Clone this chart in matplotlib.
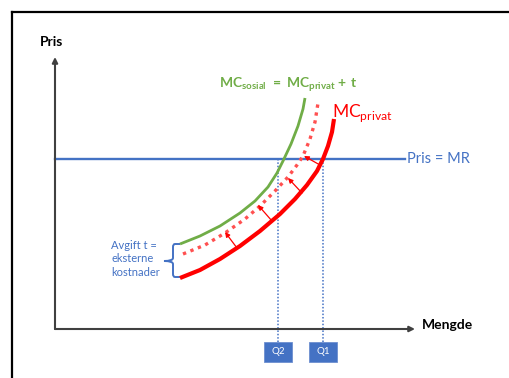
import matplotlib
matplotlib.use("Agg")
import matplotlib.pyplot as plt
from matplotlib.patches import Rectangle, PathPatch
from matplotlib.path import Path

plt.rcParams['font.family'] = ['Lato', 'DejaVu Sans']
plt.rcParams['mathtext.fontset'] = 'custom'
plt.rcParams['mathtext.rm'] = 'Lato'
plt.rcParams['mathtext.bf'] = 'Lato:bold'

# Data (quantity, price)
red_q = [125, 145, 165, 185, 205, 225, 240, 252, 262, 268, 273, 277, 279]
red_p = [51, 59, 70, 83, 98, 115, 130, 144, 158, 170, 183, 197, 210]
green_q = [125, 145, 165, 185, 200, 213, 222, 228, 236, 243, 248, 250]
green_p = [85, 93, 103, 116, 128, 142, 156, 168, 185, 203, 220, 231]
dot_q = [128, 150, 170, 190, 205, 220, 233, 242, 248, 255, 260, 263]
dot_p = [75, 84, 96, 110, 123, 138, 152, 164, 173, 190, 207, 226]
arrow_from = [(182, 81), (217, 108), (247, 136), (265, 164)]
arrow_to = [(170, 97), (203, 124), (233, 151), (249, 173)]
price_mr = 170
q_labels = ["Q2", "Q1"]
q_values = [223, 268]

BLUE = '#4472C4'
GREEN = '#70AD47'
RED = '#FF0000'

fig = plt.figure(figsize=(5.10, 3.78), dpi=100)
ax = fig.add_axes([0, 0, 1, 1])
ax.set_xlim(-55, 455)
ax.set_ylim(-49, 329)
ax.axis('off')

# frame
ax.plot([-43, 460], [317, 317], color='black', lw=1.6, clip_on=False)
ax.plot([-43, -43], [317, -55], color='black', lw=1.6, clip_on=False)

# axes
ax.annotate('', xy=(0, 272), xytext=(0, 0),
            arrowprops=dict(arrowstyle='-|>', color='#404040', lw=1.5, mutation_scale=8, shrinkA=0, shrinkB=0))
ax.annotate('', xy=(360, 0), xytext=(0, 0),
            arrowprops=dict(arrowstyle='-|>', color='#404040', lw=1.5, mutation_scale=8, shrinkA=0, shrinkB=0))
ax.text(-3, 287, 'Pris', fontsize=10, fontweight='bold', ha='center', va='center')
ax.text(367, 4, 'Mengde', fontsize=10, fontweight='bold', ha='left', va='center')

# price line
ax.plot([0, 350], [price_mr, price_mr], color=BLUE, lw=1.7)
ax.text(352, price_mr, 'Pris = MR', fontsize=10.5, color=BLUE, ha='left', va='center')

# Q lines and boxes
for lab, q in zip(q_labels, q_values):
    ax.plot([q, q], [price_mr, -13], color=BLUE, lw=1.1, ls=(0, (1, 1.2)))
    ax.add_patch(Rectangle((q - 14, -33), 28, 20, facecolor=BLUE, edgecolor='#6d8fd0', lw=0.6))
    ax.text(q, -23, lab, color='white', fontsize=7, ha='center', va='center')

# curves
ax.plot(green_q, green_p, color=GREEN, lw=2.0, solid_capstyle='butt', solid_joinstyle='round')
ax.plot(red_q, red_p, color=RED, lw=3.0, solid_capstyle='butt', solid_joinstyle='round')
ax.plot(dot_q, dot_p, color='#FF5050', lw=2.4, ls=(0, (1, 1.4)))

for (x0, y0), (x1, y1) in zip(arrow_from, arrow_to):
    ax.annotate('', xy=(x1, y1), xytext=(x0, y0),
                arrowprops=dict(arrowstyle='-|>', color=RED, lw=0.9, mutation_scale=7, shrinkA=0, shrinkB=0))

# labels
ax.text(233, 245, r'$\mathbf{MC}_{\mathbf{sosial}}$' + ' ' + r'$\mathbf{=}$' + ' ' + r'$\mathbf{MC}_{\mathbf{privat}}$' + ' ' + r'$\mathbf{+\ t}$',
        color=GREEN, fontsize=10, ha='center', va='center')
ax.text(277, 216, r'$\mathrm{MC}_{\mathrm{privat}}$', color=RED, fontsize=12.5, ha='left', va='center')

# brace
codes = [Path.MOVETO, Path.LINETO, Path.CURVE3, Path.CURVE3,
         Path.LINETO, Path.CURVE3, Path.CURVE3,
         Path.CURVE3, Path.CURVE3, Path.LINETO,
         Path.CURVE3, Path.CURVE3, Path.LINETO]
verts = [(125, 85), (120, 85), (118, 85), (118, 82),
         (118, 71), (118, 68), (109, 68),
         (118, 68), (118, 65), (118, 55),
         (118, 52), (120, 52), (125, 52)]
ax.add_patch(PathPatch(Path(verts, codes), facecolor='none', edgecolor=BLUE, lw=1.4))
ax.text(56, 70, 'Avgift t =\neksterne\nkostnader', color=BLUE, fontsize=8, ha='left', va='center', linespacing=1.3)

fig.savefig('out.png', dpi=100)
